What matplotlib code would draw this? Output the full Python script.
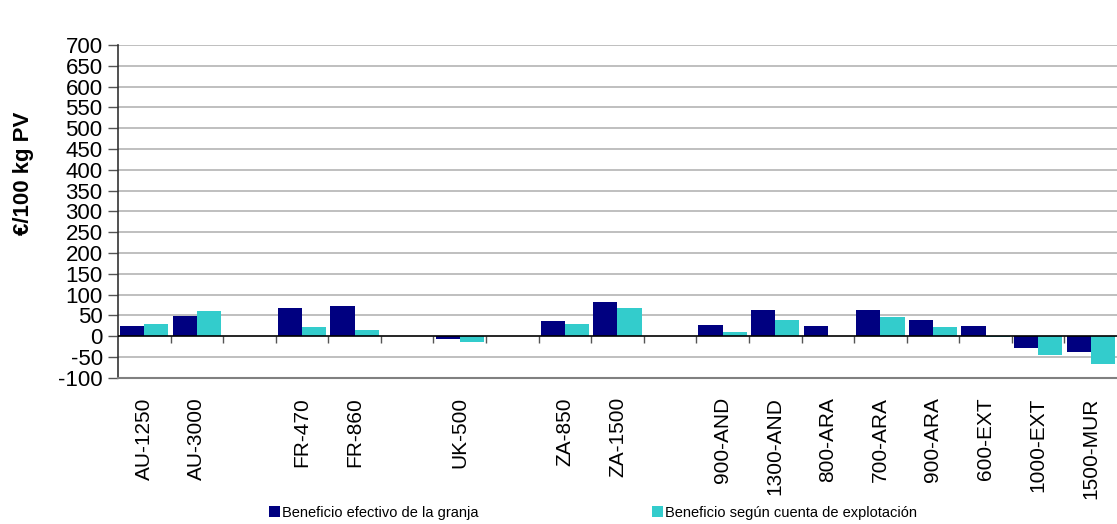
import numpy as np
import matplotlib.pyplot as plt

plt.rcParams['font.family'] = ['Liberation Sans', 'DejaVu Sans']

categories = ['AU-1250', 'AU-3000', '', 'FR-470', 'FR-860', '', 'UK-500', '',
              'ZA-850', 'ZA-1500', '', '900-AND', '1300-AND', '800-ARA',
              '700-ARA', '900-ARA', '600-EXT', '1000-EXT', '1500-MUR']
efectivo = [25, 49, 0, 67, 72, 0, -6, 0, 37, 83, 0, 28, 62, 25, 62, 39, 25, -29, -38]
cuenta = [30, 60, 0, 21, 14, 0, -15, 0, 30, 69, 0, 9, 39, 0, 46, 21, -2, -45, -68]
yticks = list(range(-100, 701, 50))

fig = plt.figure(figsize=(11.17, 5.24), dpi=100)
ax = fig.add_axes([0.1056, 0.279, 0.8944, 0.635])

x = np.arange(len(categories))
w = 0.46
ax.bar(x - w / 2, efectivo, w, color='#000080', label='Beneficio efectivo de la granja', zorder=3)
ax.bar(x + w / 2, cuenta, w, color='#33CCCC', label='Beneficio según cuenta de explotación', zorder=3)

ax.set_xlim(-0.5, len(categories) - 0.5)
ax.set_ylim(-100, 700)
ax.set_yticks(yticks)
ax.set_yticklabels([str(v) for v in yticks], fontsize=16)
for v in yticks:
    if v != 0:
        ax.axhline(v, color='#b4b4b4', lw=1.2, zorder=1)
ax.axhline(0, color='black', lw=1.2, zorder=4)

ax.set_xticks(x)
ax.set_xticklabels(categories, rotation=90, fontsize=15)
ax.tick_params(axis='x', length=0, pad=14)
ax.tick_params(axis='y', direction='out', length=7, width=1, color='#555555', pad=4)

for s in ['top', 'right']:
    ax.spines[s].set_visible(False)
ax.spines['left'].set_color('#333333')
ax.spines['left'].set_linewidth(1.2)
ax.spines['bottom'].set_color('#808080')
ax.spines['bottom'].set_linewidth(1.5)

sec = ax.secondary_xaxis(100 / 800)
sec.set_xticks(np.arange(0.5, len(categories) - 0.5, 1.0))
sec.set_xticklabels([])
sec.tick_params(direction='out', length=5, width=1, color='#555555')
sec.spines['bottom'].set_visible(False)

ax.set_ylabel('€/100 kg PV', fontsize=16, fontweight='bold')
ax.yaxis.set_label_coords(-0.084, 0.616)

fig.legend(loc='lower left', bbox_to_anchor=(0.241, 0.008), ncol=2, frameon=False,
           fontsize=10.5, handlelength=0.75, handleheight=0.75, handletextpad=0.15,
           columnspacing=11.9, borderpad=0, borderaxespad=0)

fig.savefig('out.png', dpi=100)
